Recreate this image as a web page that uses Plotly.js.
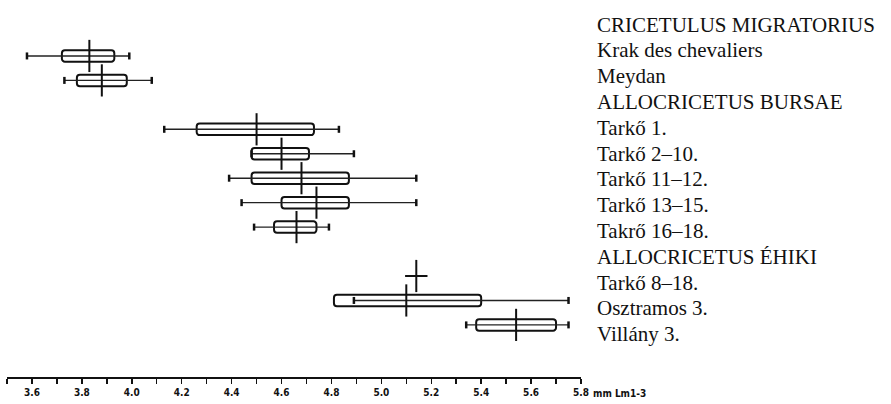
<!DOCTYPE html>
<html>
<head>
<meta charset="utf-8">
<script src="https://cdn.plot.ly/plotly-3.0.1.min.js"></script>
<style>html,body{margin:0;padding:0;background:#fff;}#chart{width:891px;height:404px;}</style>
</head>
<body>
<div id="chart"></div>
<script>
// ---- data (mm, length of molar row) ----
const labels = ['CRICETULUS MIGRATORIUS','Krak des chevaliers','Meydan','ALLOCRICETUS BURSAE','Tarkő 1.','Tarkő 2–10.','Tarkő 11–12.','Tarkő 13–15.','Takrő 16–18.','ALLOCRICETUS ÉHIKI','Tarkő 8–18.','Osztramos 3.','Villány 3.'];
const rangeMin = [null, 3.58, 3.73, null, 4.13, 4.48, 4.39, 4.44, 4.49, null, null, 4.89, 5.34];
const rangeMax = [null, 3.99, 4.08, null, 4.83, 4.89, 5.14, 5.14, 4.79, null, null, 5.75, 5.75];
const boxLow   = [null, 3.72, 3.78, null, 4.26, 4.48, 4.48, 4.60, 4.57, null, null, 4.81, 5.38];
const boxHigh  = [null, 3.93, 3.98, null, 4.73, 4.71, 4.87, 4.87, 4.74, null, null, 5.40, 5.70];
const means    = [null, 3.83, 3.88, null, 4.50, 4.60, 4.68, 4.74, 4.66, null, 5.14, 5.10, 5.54];
const tickVals = [3.5,3.6,3.7,3.8,3.9,4.0,4.1,4.2,4.3,4.4,4.5,4.6,4.7,4.8,4.9,5.0,5.1,5.2,5.3,5.4,5.5,5.6,5.7,5.8];
const tickLabels = ['','3.6','','3.8','','4.0','','4.2','','4.4','','4.6','','4.8','','5.0','','5.2','','5.4','','5.6','','5.8'];
const unitLabel = 'mm Lm1-3';

// ---- layout constants (pixels) ----
const W = 891, H = 404, plotBottom = 377;
const rowPx0 = 31.5, rowPx = 24.45;     // row 0 centre and row step
const labelPx0 = 24.5, labelPx = 25.8;  // label line centre and step
const yRange = [(plotBottom - rowPx0) / rowPx, -rowPx0 / rowPx];
const pxToRow = p => (p - rowPx0) / rowPx;
const rows = labels.map((_, i) => i);

// boxes (bars)
const bx = [], bbase = [], by = [];
rows.forEach(i => { if (boxLow[i] !== null) { bx.push(boxHigh[i] - boxLow[i]); bbase.push(boxLow[i]); by.push(i); } });

// range lines
const lx = [], ly = [], cx = [], cy = [];
rows.forEach(i => {
  if (rangeMin[i] !== null) {
    lx.push(rangeMin[i], rangeMax[i], null); ly.push(i, i, null);
    cx.push(rangeMin[i], rangeMax[i]); cy.push(i, i);
  }
});
// means
const mx = [], my = [], sx = [], sy = [];
rows.forEach(i => {
  if (means[i] !== null) {
    mx.push(means[i]); my.push(i);
    if (boxLow[i] === null) { sx.push(means[i]); sy.push(i); }
  }
});

const data = [
  { type: 'bar', orientation: 'h', x: bx, base: bbase, y: by, width: 0.47,
    marker: { color: '#fff', line: { color: '#111', width: 2 }, cornerradius: 3 },
    hoverinfo: 'skip', showlegend: false },
  { type: 'scatter', mode: 'lines', x: lx, y: ly, line: { color: '#222', width: 1.4 },
    hoverinfo: 'skip', showlegend: false },
  { type: 'scatter', mode: 'markers', x: cx, y: cy,
    marker: { symbol: 'line-ns', size: 5, line: { color: '#111', width: 2.5 } },
    hoverinfo: 'skip', showlegend: false },
  { type: 'scatter', mode: 'markers', x: mx, y: my,
    marker: { symbol: 'line-ns', size: 23, line: { color: '#111', width: 2 } },
    hoverinfo: 'skip', showlegend: false },
  { type: 'scatter', mode: 'markers', x: sx, y: sy,
    marker: { symbol: 'line-ew', size: 16, line: { color: '#111', width: 2 } },
    hoverinfo: 'skip', showlegend: false }
];

const annotations = labels.map((t, j) => ({
  text: t, xref: 'paper', x: 595 / W, xanchor: 'left',
  yref: 'y', y: pxToRow(labelPx0 + labelPx * j), yanchor: 'middle',
  showarrow: false, font: { family: 'Liberation Serif, Times New Roman, serif', size: 21, color: '#111' }
}));
annotations.push({
  text: unitLabel, xref: 'paper', x: 591 / W, xanchor: 'left',
  yref: 'paper', y: (plotBottom - 393) / plotBottom, yanchor: 'middle',
  showarrow: false, font: { family: 'DejaVu Sans Condensed, DejaVu Sans, sans-serif', size: 10, weight: 'bold', color: '#111' }
});

const layout = {
  width: W, height: H,
  margin: { l: 0, r: 0, t: 0, b: H - plotBottom, pad: 0 },
  paper_bgcolor: '#fff', plot_bgcolor: '#fff',
  showlegend: false,
  xaxis: {
    domain: [7 / W, 581 / W], range: [3.5, 5.8],
    tickmode: 'array', tickvals: tickVals, ticktext: tickLabels,
    ticks: 'outside', ticklen: 5, tickwidth: 1.5, tickcolor: '#111',
    showline: true, linecolor: '#111', linewidth: 2, showgrid: false, zeroline: false,
    tickfont: { family: 'DejaVu Sans Condensed, DejaVu Sans, sans-serif', size: 10, weight: 'bold', color: '#111' },
    ticklabelstandoff: 0, fixedrange: true
  },
  yaxis: {
    range: yRange, showgrid: false, zeroline: false, showline: false,
    showticklabels: false, ticks: '', fixedrange: true
  },
  bargap: 0,
  annotations: annotations
};

Plotly.newPlot('chart', data, layout, { staticPlot: true, displayModeBar: false });
</script>
</body>
</html>
